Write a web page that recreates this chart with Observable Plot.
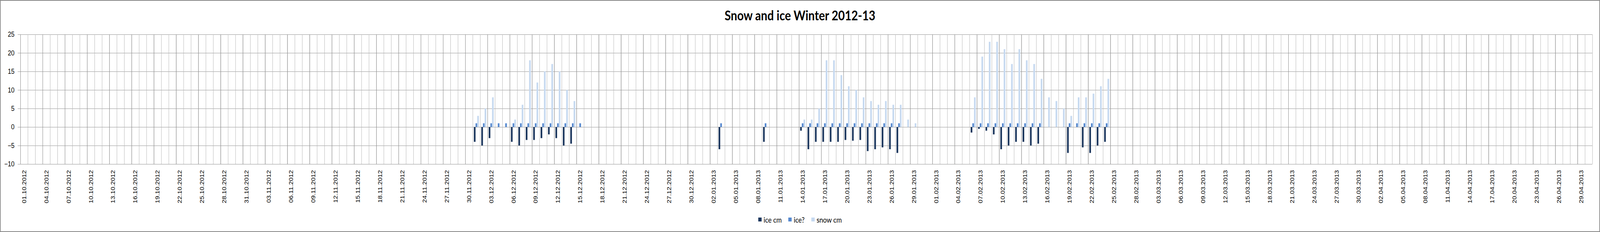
<!DOCTYPE html>
<html>
<head>
<meta charset="utf-8">
<script src="https://cdn.jsdelivr.net/npm/d3@7"></script>
<script src="https://cdn.jsdelivr.net/npm/@observablehq/plot@0.6"></script>
<style>
  html, body { margin: 0; padding: 0; background: #fff; overflow: hidden; }
  #wrap { position: absolute; left: 0; top: 0; width: 4794px; height: 594px; overflow: hidden; background: #fff; transform-origin: 0 0; }
  #border { position: absolute; left: 0; top: 0; width: 4794px; height: 594px; box-sizing: border-box; border: 2px solid #878787; pointer-events: none; }
  #title { position: absolute; left: 0; top: 18px; width: 4794px; text-align: center; font-family: "Lato", "Open Sans", sans-serif; font-weight: bold; font-size: 34px; color: #000; line-height: 41px; }
  #legend { position: absolute; left: 0; top: 548px; height: 28px; width: 4794px; display: flex; justify-content: center; align-items: center; font-family: "Lato", "Open Sans", sans-serif; font-size: 19.5px; color: #000; }
  .item { display: flex; align-items: center; margin: 0 10px; }
  .sw { width: 10px; height: 10px; margin-right: 6px; }
  #chart { position: absolute; left: 0; top: 0; width: 4794px; height: 594px; }
  #chart svg { max-width: none !important; display: block; }
</style>
</head>
<body>
<div id="wrap">
  <div id="chart"></div>
  <div id="title">Snow and ice Winter 2012-13</div>
  <div id="legend"></div>
  <div id="border"></div>
</div>
<script>
// ---- data ----
const seriesNames = ["ice cm", "ice?", "snow cm"];
const seriesColors = ["#1b365d", "#5588cf", "#c6d9f0"];
const yTicks = [-10, -5, 0, 5, 10, 15, 20, 25];

// observation days (dd.mm.yyyy) and values per series (null = no bar)
const obsDates = [
  "01.12.2012","02.12.2012","03.12.2012","04.12.2012","05.12.2012","06.12.2012","07.12.2012",
  "08.12.2012","09.12.2012","10.12.2012","11.12.2012","12.12.2012","13.12.2012","14.12.2012","15.12.2012",
  "03.01.2013","09.01.2013",
  "14.01.2013","15.01.2013","16.01.2013","17.01.2013","18.01.2013","19.01.2013","20.01.2013","21.01.2013",
  "22.01.2013","23.01.2013","24.01.2013","25.01.2013","26.01.2013","27.01.2013","28.01.2013","29.01.2013",
  "06.02.2013","07.02.2013","08.02.2013","09.02.2013","10.02.2013","11.02.2013","12.02.2013","13.02.2013",
  "14.02.2013","15.02.2013","16.02.2013","17.02.2013","18.02.2013","19.02.2013","20.02.2013","21.02.2013",
  "22.02.2013","23.02.2013","24.02.2013"
];
const iceCm = [
  -4,-5,-3,null,null,-4,-5,
  -3.5,-3.5,-3,-2,-3,-5,-4.5,null,
  -6,-4,
  -1,-6,-4,-4,-4,-4,-3.5,-3.7,
  -3.5,-6.5,-6,-5.5,-6,-7,null,null,
  -1.5,-0.5,-1,-2,-6,-5,-4,-4,
  -5,-4.5,null,null,null,-7,null,-5.5,
  -7,-5,-4
];
const iceQ = [
  1,1,1,1,1,1,1,
  1,1,1,1,1,1,1,1,
  1,1,
  1,1,1,1,1,1,1,1,
  1,1,1,1,1,1,null,null,
  1,1,1,1,1,1,1,1,
  1,1,null,null,null,1,1,1,
  1,1,1
];
const snowCm = [
  3,5,8,null,null,2,6,
  18,12,15,17,15,10,7,null,
  null,null,
  2,2,5,18,18,14,11,10,
  8,7,6,7,6,6,2,1,
  8,19,23,23,21,17,21,18,
  17,13,8,7,5,3,8,8,
  9,11,13
];

// category axis: every day 01.10.2012 .. 30.04.2013
const fmt = d3.utcFormat("%d.%m.%Y");
const categories = d3.utcDay.range(new Date(Date.UTC(2012, 9, 1)), new Date(Date.UTC(2013, 4, 1))).map(fmt);
const tickLabels = categories.filter((d, i) => i % 3 === 0);

// ---- build rows ----
const seriesValues = [iceCm, iceQ, snowCm];
const rows = [];
seriesNames.forEach((s, k) => {
  obsDates.forEach((d, i) => {
    const v = seriesValues[k][i];
    if (v != null) rows.push({date: d, series: s, value: v});
  });
});

// ---- layout ----
const W = 4794, H = 594;
const mL = 61, mR = 23, mT = 88, mB = 174;
const bw = (W - mL - mR) / categories.length;
const barW = 5;
const inset = (bw - barW) / 2;
const offsets = [-barW, 0, barW];

const light = "#b4b4b4", dark = "#8a8a8a";

const marks = [
  Plot.ruleY(yTicks, {stroke: dark, strokeWidth: 1}),
  Plot.ruleX(categories, {stroke: light, dx: -bw / 2}),
  Plot.ruleX([categories[categories.length - 1]], {stroke: light, dx: bw / 2}),
  Plot.ruleX(tickLabels, {stroke: dark, dx: -bw / 2}),
  ...seriesNames.map((s, k) =>
    Plot.barY(rows.filter(r => r.series === s), {
      x: "date", y: "value", fill: seriesColors[k],
      insetLeft: inset, insetRight: inset, dx: offsets[k]
    })
  ),
  Plot.axisX(tickLabels, {tickRotate: -90, tickSize: 0, tickPadding: 15, fontSize: 17, fontFamily: "Liberation Sans", fill: "#000"}),
  Plot.axisY(yTicks, {tickSize: 8, tickPadding: 10, fontSize: 18, fontFamily: "Liberation Sans", stroke: dark, fill: "#000"})
];

const chart = Plot.plot({
  width: W, height: H,
  marginLeft: mL, marginRight: mR, marginTop: mT, marginBottom: mB,
  style: {background: "transparent", fontFamily: "Liberation Sans"},
  x: {type: "band", domain: categories, padding: 0, round: false, label: null},
  y: {domain: [-10, 25], label: null},
  marks
});
document.getElementById("chart").appendChild(chart);

// ---- legend ----
const legend = document.getElementById("legend");
seriesNames.forEach((s, k) => {
  const it = document.createElement("div");
  it.className = "item";
  const sw = document.createElement("span");
  sw.className = "sw";
  sw.style.background = seriesColors[k];
  const tx = document.createElement("span");
  tx.textContent = s;
  it.appendChild(sw); it.appendChild(tx);
  legend.appendChild(it);
});

// fit the 4794x594 layout to the actual viewport (the window may be narrower)
function fit() {
  const vw = window.innerWidth, vh = window.innerHeight;
  document.getElementById("wrap").style.transform = `scale(${vw / W}, ${vh / H})`;
}
fit();
window.addEventListener("resize", fit);
</script>
</body>
</html>
